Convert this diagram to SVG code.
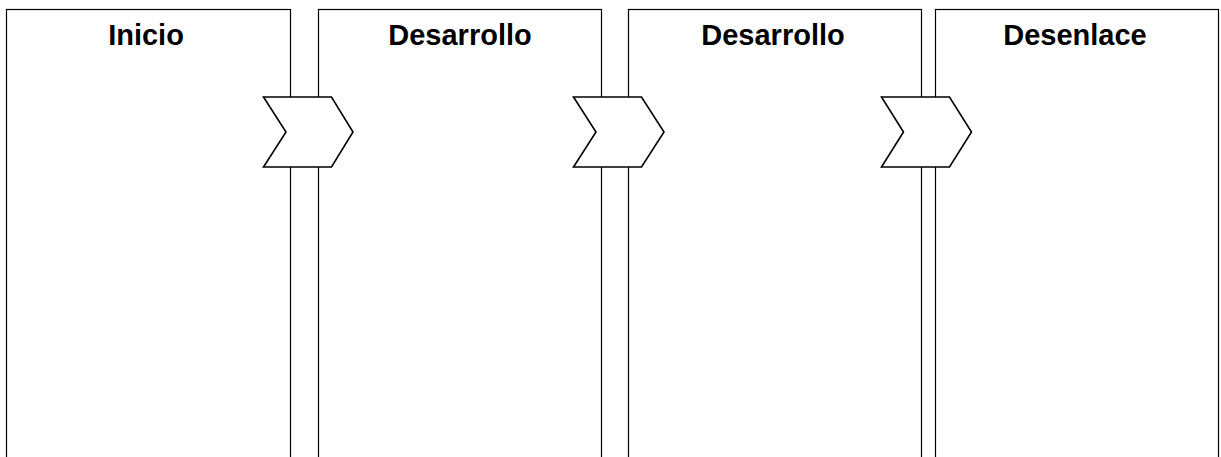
<svg xmlns="http://www.w3.org/2000/svg" width="1221" height="457" viewBox="0 0 1221 457">
<style>
.box{fill:#fff;stroke:#000;stroke-width:1.2}
.chev{fill:#fff;stroke:#000;stroke-width:1.6;stroke-linejoin:miter}
.lbl{font-family:"Liberation Sans",Arial,sans-serif;font-weight:bold;font-size:29px;fill:#000;text-anchor:middle}
</style>
<rect width="1221" height="457" fill="#fff"/>
<g id="node-inicio"><rect class="box" x="6.5" y="9.5" width="284" height="460"/><text class="lbl" x="146" y="45">Inicio</text></g>
<g id="node-desarrollo1"><rect class="box" x="318.5" y="9.5" width="283" height="460"/><text class="lbl" x="460" y="45">Desarrollo</text></g>
<g id="node-desarrollo2"><rect class="box" x="628.5" y="9.5" width="293" height="460"/><text class="lbl" x="773" y="45">Desarrollo</text></g>
<g id="node-desenlace"><rect class="box" x="935.5" y="9.5" width="283" height="460"/><text class="lbl" x="1075" y="45">Desenlace</text></g>
<g id="connectors">
<polygon class="chev" points="263.5,97 331.5,97 353,132 331.5,167 263.5,167 286,132"/>
<polygon class="chev" points="573.5,97 641.5,97 664,132 641.5,167 573.5,167 596,132"/>
<polygon class="chev" points="881.5,97 949.5,97 971.5,132 949.5,167 881.5,167 903.5,132"/>
</g>
</svg>
